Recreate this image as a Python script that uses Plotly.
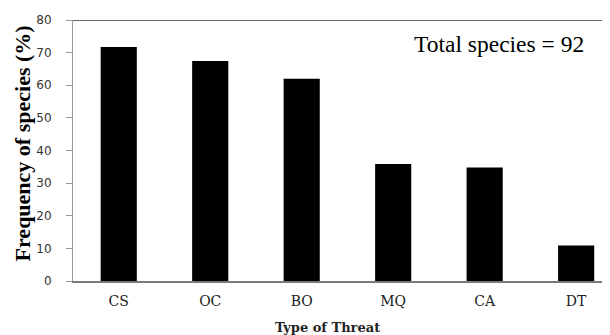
import plotly.graph_objects as go

categories = ["CS", "OC", "BO", "MQ", "CA", "DT"]
values = [71.7, 67.4, 62.0, 35.9, 34.8, 10.9]
y_ticks = [0, 10, 20, 30, 40, 50, 60, 70, 80]

fig = go.Figure()
fig.add_trace(go.Bar(x=list(range(len(categories))), y=values, width=0.395,
                     marker=dict(color="black", line=dict(width=0))))

# the page body adds an 8px offset, so the figure is 8px smaller on each axis
fig.update_layout(
    width=602, height=327,
    margin=dict(l=65, r=0, t=12, b=54),
    plot_bgcolor="white", paper_bgcolor="white",
    showlegend=False,
    xaxis=dict(range=[-0.5, 5.37], tickvals=list(range(len(categories))),
               ticktext=categories, showline=True, linecolor="#7a7a7a", linewidth=1.5,
               ticks="", showgrid=False, zeroline=False, automargin=False,
               ticklabelstandoff=6,
               tickfont=dict(family="DejaVu Serif", size=14, color="#222222")),
    yaxis=dict(range=[0, 80], tickvals=y_ticks, showline=True, linecolor="#999999",
               linewidth=1, ticks="outside", ticklen=6, tickcolor="#999999",
               showgrid=False, zeroline=False, automargin=False,
               ticklabelstandoff=12,
               tickfont=dict(family="DejaVu Sans", size=12, color="#333333")),
    shapes=[dict(type="line", xref="paper", yref="y", x0=0, x1=1, y0=80, y1=80,
                 line=dict(color="#333333", width=1.5))],
    annotations=[
        dict(text="Total species = 92", x=0.794, y=0.908, xref="paper", yref="paper",
             xanchor="center", yanchor="middle", showarrow=False,
             font=dict(family="Liberation Serif", size=23.5, color="black")),
        dict(text="<b>Frequency of species (%)</b>", x=-0.095, y=0.527,
             xref="paper", yref="paper", xanchor="center", yanchor="middle",
             textangle=-90, showarrow=False,
             font=dict(family="Liberation Serif", size=22, color="black")),
        dict(text="<b>Type of Threat</b>", x=0.473, y=-0.18,
             xref="paper", yref="paper", xanchor="center", yanchor="middle",
             showarrow=False,
             font=dict(family="DejaVu Serif", size=13, color="#222222")),
    ],
)

fig.write_html("out.html")
